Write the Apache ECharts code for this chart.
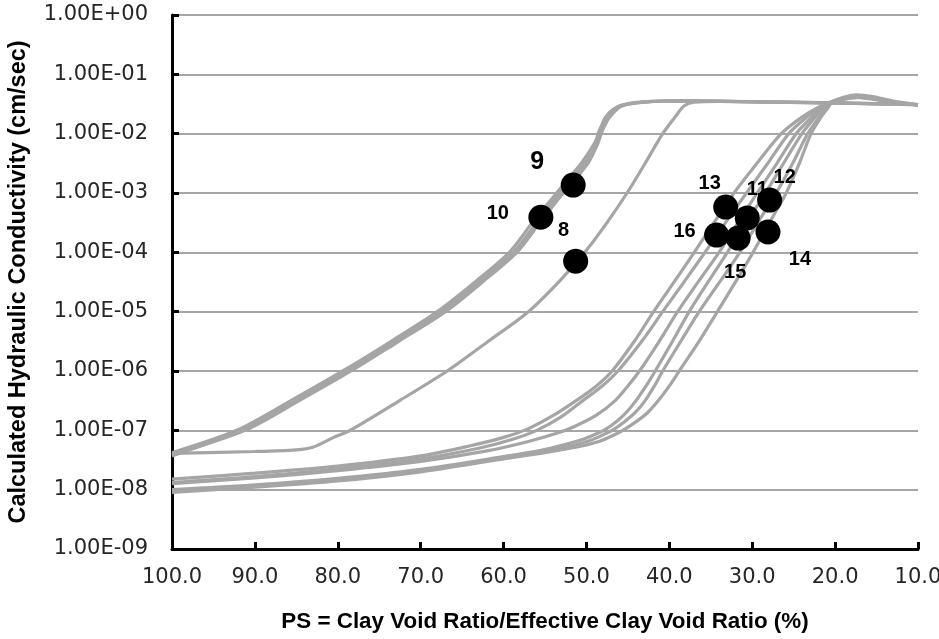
<!DOCTYPE html>
<html>
<head>
<meta charset="utf-8">
<script src="https://cdn.jsdelivr.net/npm/echarts@6/dist/echarts.min.js"></script>
<style>
  html, body { margin: 0; padding: 0; background: #fff; }
  #main { width: 939px; height: 639px; }
</style>
</head>
<body>
<div id="main"></div>
<script>
// x = PS (%), y = hydraulic conductivity (cm/sec)
// left bundle (samples 8-10)
var curveA1 = [[100,4.2e-8],[92.2,1e-7],[85.6,3.2e-7],[79.4,1e-6],[73.5,3.2e-6],[68,1e-5],[63.4,3.2e-5],[59.3,1e-4],[56.5,3.2e-4],[53.6,1e-3],[50.6,3.2e-3],[49,7e-3],[48.3,1.2e-2],[47.7,1.9e-2],[46.3,2.8e-2],[44,3.3e-2],[40,3.55e-2],[34,3.5e-2],[25,3.4e-2],[18,3.25e-2],[10,3.1e-2]];
var curveA2 = [[100,3.9e-8],[91.2,1e-7],[84.6,3.2e-7],[78.4,1e-6],[72.6,3.2e-6],[67,1e-5],[62.5,3.2e-5],[58.4,1e-4],[55.6,3.2e-4],[52.8,1e-3],[49.8,3.2e-3],[48.6,7e-3],[48,1.2e-2],[47.2,1.9e-2],[45.8,2.9e-2],[43,3.4e-2],[38,3.6e-2],[30,3.45e-2],[20,3.3e-2],[10,3.05e-2]];
var curveA3 = [[100,3.7e-8],[91.7,1e-7],[85.1,3.2e-7],[78.9,1e-6],[73,3.2e-6],[67.5,1e-5],[62.9,3.2e-5],[58.8,1e-4],[56,3.2e-4],[53.2,1e-3],[50.2,3.2e-3],[48.9,6e-3],[48.6,1e-2],[47.9,1.6e-2],[47,2.4e-2],[45.5,3.1e-2],[42,3.5e-2],[36,3.55e-2],[28,3.4e-2],[15,3.2e-2],[10,3.1e-2]];
var curveB = [[100,4.1e-8],[90,4.4e-8],[85,4.7e-8],[83,5.2e-8],[80.5,7.6e-8],[78.5,1e-7],[72.5,3.2e-7],[66.8,1e-6],[61.8,3.2e-6],[57,1e-5],[53.3,3.2e-5],[50.2,1e-4],[47.5,3.2e-4],[45.1,1e-3],[42.9,3.2e-3],[40.8,1e-2],[39.2,2e-2],[38.2,2.95e-2],[37,3.4e-2],[34,3.5e-2],[28,3.4e-2],[20,3.3e-2],[10,3.1e-2]];
// right bundle (samples 11-16)
var curveC1 = [[100,1.5e-8],[90,1.9e-8],[80,2.5e-8],[70,3.7e-8],[64,5.5e-8],[60,7.6e-8],[57,1.07e-7],[54,1.78e-7],[51.2,3.2e-7],[48.8,5.6e-7],[46.9,1e-6],[44.2,3.2e-6],[41.9,1e-5],[39.4,3.2e-5],[37,1e-4],[34.6,3.2e-4],[32.2,1e-3],[29.4,3.2e-3],[26.5,1e-2],[24,1.9e-2],[22,2.8e-2],[20.4,3.45e-2],[19,4.1e-2],[17.4,4.5e-2],[15.5,4.2e-2],[13,3.55e-2],[10,3.1e-2]];
var curveC2 = [[100,1.32e-8],[90,1.66e-8],[80,2.24e-8],[70,3.3e-8],[63,5e-8],[59,7e-8],[56,1e-7],[53,1.7e-7],[50.4,3.2e-7],[48.1,5.6e-7],[46.2,1e-6],[43.3,3.2e-6],[40.8,1e-5],[38.2,3.2e-5],[35.7,1e-4],[33.2,3.2e-4],[30.7,1e-3],[28.1,3.2e-3],[25.6,1e-2],[23.4,1.9e-2],[21.7,2.8e-2],[20.4,3.45e-2],[19,4e-2],[17.4,4.3e-2],[15.5,4e-2],[13,3.4e-2],[10,3.05e-2]];
var curveC3 = [[100,1.26e-8],[90,1.58e-8],[80,2.1e-8],[70,3e-8],[62,4.5e-8],[57,6.5e-8],[53.5,9e-8],[51.5,1.15e-7],[48.8,1.8e-7],[46.5,3.2e-7],[45,5.6e-7],[43.6,1e-6],[41.2,3.2e-6],[39,1e-5],[36.5,3.2e-5],[34,1e-4],[31.7,3.2e-4],[29.4,1e-3],[27,3.2e-3],[24.7,1e-2],[22.8,1.9e-2],[21.4,2.8e-2],[20.4,3.45e-2],[19,3.9e-2],[17,4.2e-2],[15,3.9e-2],[12.5,3.3e-2],[10,3.05e-2]];
var curveC4 = [[100,1e-8],[90,1.2e-8],[80,1.55e-8],[70,2.2e-8],[60,3.6e-8],[55.5,4.6e-8],[52.5,5.8e-8],[50.5,7e-8],[49,8.5e-8],[47.8,1.02e-7],[46.4,1.4e-7],[45.2,2e-7],[44,3.2e-7],[42.8,5.6e-7],[41.7,1e-6],[39.6,3.2e-6],[37.6,1e-5],[35.3,3.2e-5],[33,1e-4],[30.7,3.2e-4],[28.4,1e-3],[26.2,3.2e-3],[24,1e-2],[22.4,1.9e-2],[21.2,2.8e-2],[20.4,3.4e-2],[19,3.9e-2],[17.4,4.2e-2],[15.5,3.9e-2],[13,3.4e-2],[10,3.05e-2]];
var curveC5 = [[100,9.5e-9],[90,1.15e-8],[80,1.5e-8],[70,2.1e-8],[60,3.4e-8],[55,4.4e-8],[51.5,5.6e-8],[49.5,6.8e-8],[48,8.4e-8],[46.8,1.02e-7],[45.4,1.4e-7],[44.1,2e-7],[42.9,3.2e-7],[41.8,5.6e-7],[40.8,1e-6],[38.6,3.2e-6],[36.4,1e-5],[33.9,3.2e-5],[31.5,1e-4],[29.3,3.2e-4],[27.1,1e-3],[25.1,3.2e-3],[23.3,1e-2],[21.9,1.9e-2],[20.9,2.8e-2],[20.4,3.4e-2],[19,3.8e-2],[17,4.1e-2],[15,3.8e-2],[12.5,3.3e-2],[10,3.05e-2]];
var curveC6 = [[100,9e-9],[90,1.1e-8],[80,1.4e-8],[70,2e-8],[60,3.3e-8],[55,4.2e-8],[51,5.3e-8],[48.5,6.5e-8],[46.8,8.2e-8],[45.5,1.02e-7],[44,1.4e-7],[42.6,2e-7],[41.3,3.2e-7],[40,5.6e-7],[38.8,1e-6],[36.4,3.2e-6],[34.2,1e-5],[32,3.2e-5],[29.9,1e-4],[27.9,3.2e-4],[25.9,1e-3],[24.3,3.2e-3],[22.9,1e-2],[21.7,1.9e-2],[20.8,2.8e-2],[20.4,3.4e-2],[19,3.8e-2],[17.4,4.1e-2],[15.5,3.8e-2],[13,3.35e-2],[10,3.05e-2]];

// measured points
var pointNames = ['9', '10', '8', '13', '11', '12', '16', '14', '15'];
var pointX = [51.6, 55.5, 51.3, 33.2, 30.6, 27.9, 34.3, 28.1, 31.7];
var pointY = [1.36e-3, 3.9e-4, 7.1e-5, 5.8e-4, 3.8e-4, 7.6e-4, 1.95e-4, 2.2e-4, 1.74e-4];

var xTicks = [100, 90, 80, 70, 60, 50, 40, 30, 20, 10];

var curves = [curveA1, curveA2, curveA3, curveB, curveC1, curveC2, curveC3, curveC4, curveC5, curveC6];

// label placement around each dot (px)
var labelOffsets = {
  '9': [-36, -23], '10': [-43, -4], '8': [-12, -31], '13': [-16, -24], '11': [10, -28],
  '12': [15, -23], '16': [-32, -4], '14': [32, 27], '15': [-3, 34]
};

var font = 'Liberation Sans, Arial, sans-serif';
var tickFont = 'DejaVu Sans, Verdana, sans-serif';

var series = [];
for (var i = 0; i < curves.length; i++) {
  series.push({
    type: 'line',
    data: curves[i],
    showSymbol: false,
    smooth: 0.3,
    lineStyle: { color: '#a5a5a5', width: 3.2 },
    silent: true,
    z: 2
  });
}

var dots = [];
for (var j = 0; j < pointNames.length; j++) {
  dots.push({
    name: pointNames[j],
    value: [pointX[j], pointY[j]],
    label: {
      offset: labelOffsets[pointNames[j]],
      fontSize: pointNames[j] === '9' ? 25 : 20
    }
  });
}
series.push({
  type: 'scatter',
  data: dots,
  symbolSize: 25,
  itemStyle: { color: '#000', opacity: 1 },
  label: {
    show: true,
    position: 'inside',
    formatter: '{b}',
    color: '#000',
    fontWeight: 'bold',
    fontFamily: font
  },
  z: 5
});

function yFmt(v) {
  var e = Math.round(Math.log(v) / Math.LN10);
  var s = Math.abs(e) < 10 ? '0' + Math.abs(e) : '' + Math.abs(e);
  return '1.00E' + (e >= 0 ? '+' : '-') + s;
}

var option = {
  backgroundColor: '#fff',
  animation: false,
  grid: { left: 172, right: 21, top: 15, bottom: 90, containLabel: false, outerBoundsMode: 'none' },
  xAxis: {
    type: 'value',
    inverse: true,
    min: 10,
    max: 100,
    interval: 10,
    name: 'PS = Clay Void Ratio/Effective Clay Void Ratio (%)',
    nameLocation: 'middle',
    nameGap: 62,
    nameTextStyle: { fontSize: 22.4, fontWeight: 'bold', color: '#000', fontFamily: font },
    axisLine: { lineStyle: { color: '#000', width: 3 } },
    axisTick: { inside: true, length: 7, lineStyle: { color: '#000', width: 3 } },
    axisLabel: {
      margin: 18,
      fontSize: 21,
      color: '#262626',
      fontFamily: tickFont,
      formatter: function (v) { return xTicks.indexOf(v) >= 0 ? v.toFixed(1) : ''; }
    },
    splitLine: { show: false }
  },
  yAxis: {
    type: 'log',
    logBase: 10,
    min: 1e-9,
    max: 1,
    name: 'Calculated Hydraulic Conductivity (cm/sec)',
    nameLocation: 'middle',
    nameGap: 141,
    nameMoveOverlap: false,
    nameTextStyle: { fontSize: 23.5, fontWeight: 'bold', color: '#000', fontFamily: font },
    axisLine: { show: true, lineStyle: { color: '#000', width: 3 } },
    axisTick: { show: true, inside: true, length: 7, lineStyle: { color: '#000', width: 3 } },
    axisLabel: {
      margin: 24,
      fontSize: 21,
      color: '#262626',
      fontFamily: tickFont,
      formatter: yFmt
    },
    splitLine: { show: true, lineStyle: { color: '#a6a6a6', width: 2 } }
  },
  series: series
};

var chart = echarts.init(document.getElementById('main'), null, { renderer: 'canvas' });
chart.setOption(option);
</script>
</body>
</html>
